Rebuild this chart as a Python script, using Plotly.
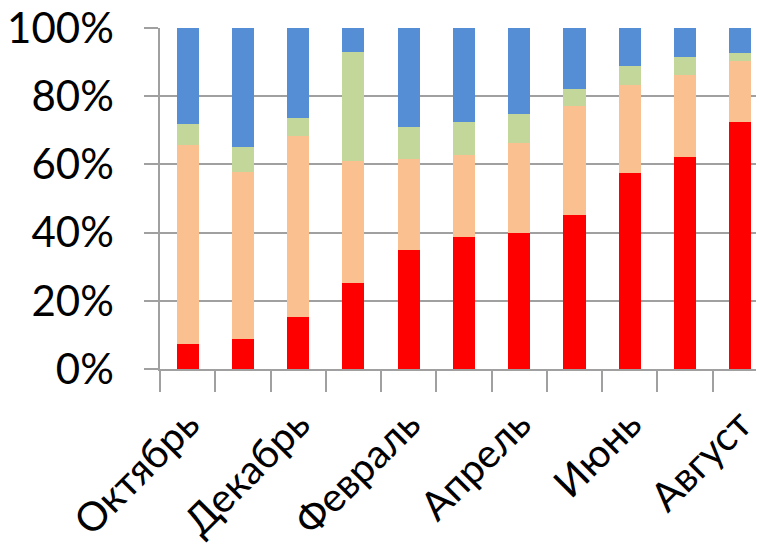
import plotly.graph_objects as go

months = ["Октябрь", "Ноябрь", "Декабрь", "Январь", "Февраль", "Март",
          "Апрель", "Май", "Июнь", "Июль", "Август"]
shown_labels = ["Октябрь", "", "Декабрь", "", "Февраль", "", "Апрель", "", "Июнь", "", "Август"]

red_vals = [7.4, 8.7, 15.3, 25.3, 35.0, 38.8, 40.0, 45.3, 57.6, 62.2, 72.3]
orange_vals = [58.2, 49.2, 52.9, 35.8, 26.6, 24.0, 26.4, 31.9, 25.8, 23.9, 18.0]
green_vals = [6.2, 7.2, 5.4, 32.0, 9.3, 9.7, 8.5, 4.8, 5.4, 5.5, 2.4]
blue_vals = [28.2, 34.9, 26.4, 6.9, 29.1, 27.5, 25.1, 18.0, 11.2, 8.4, 7.3]

series = [
    ("Серия 1", red_vals, "#FF0000"),
    ("Серия 2", orange_vals, "#FAC090"),
    ("Серия 3", green_vals, "#C4D79B"),
    ("Серия 4", blue_vals, "#558ED5"),
]

fig = go.Figure()
for name, vals, col in series:
    fig.add_trace(go.Bar(x=months, y=vals, name=name, marker=dict(color=col, line=dict(width=0))))

font_family = "Lato, sans-serif"
fig.update_layout(
    barmode="stack",
    barnorm="percent",
    bargap=0.6,
    width=756, height=550,
    margin=dict(l=152, r=0, t=20, b=189),
    paper_bgcolor="white", plot_bgcolor="white",
    showlegend=False,
    font=dict(family=font_family, size=40, color="black"),
)
fig.update_xaxes(
    type="category",
    automargin=False,
    range=[-0.5, 10.43],
    tickmode="array", tickvals=months, ticktext=shown_labels,
    tickson="boundaries",
    ticks="outside", ticklen=21, tickcolor="#A0A0A0", tickwidth=1.5,
    showline=True, linecolor="#A0A0A0", linewidth=1.5,
    showgrid=False,
    tickangle=-45,
    ticklabelstandoff=14,
    ticklabeloverflow="allow",
    tickfont=dict(size=40, family=font_family, color="black"),
)
fig.update_yaxes(
    automargin=False,
    range=[0, 100],
    tickvals=[0, 20, 40, 60, 80, 100],
    ticktext=["0%", "20%", "40%", "60%", "80%", "100%"],
    ticks="outside", ticklen=14, tickcolor="#A0A0A0", tickwidth=1.5,
    showline=True, linecolor="#A0A0A0", linewidth=1.5,
    showgrid=True, gridcolor="#A0A0A0", gridwidth=1.5,
    zeroline=False,
    ticklabelstandoff=22,
    ticklabeloverflow="allow",
    tickfont=dict(size=42, family=font_family, color="black"),
)

fig.write_html("out.html")
